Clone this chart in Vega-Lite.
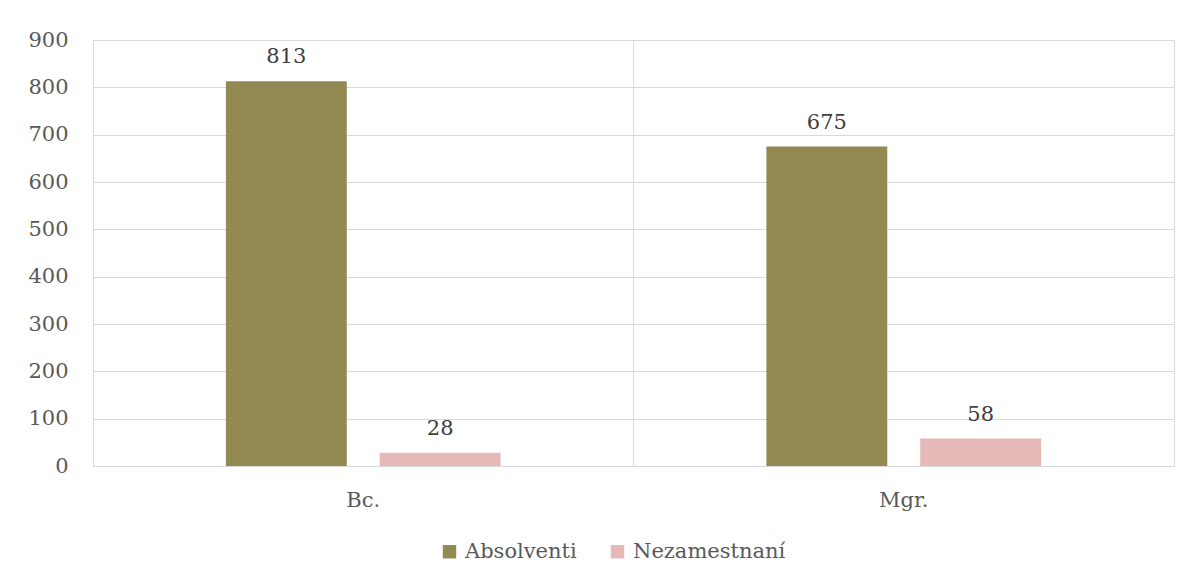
{
  "$schema": "https://vega.github.io/schema/vega-lite/v6.json",
  "width": 1081,
  "height": 426,
  "autosize": {"type": "none"},
  "padding": {"left": 93, "top": 40, "right": 18, "bottom": 122},
  "background": "white",
  "config": {
    "font": "DejaVu Serif",
    "view": {"stroke": "#d9d9d9", "strokeWidth": 1},
    "axis": {"labelFont": "DejaVu Serif", "labelColor": "#595959", "labelFontSize": 21, "gridColor": "#d9d9d9", "domainColor": "#d9d9d9", "ticks": false}
  },
  "data": {
    "values": [
      {"stupen": "Bc.", "seria": "Absolventi", "pocet": 813},
      {"stupen": "Bc.", "seria": "Nezamestnaní", "pocet": 28},
      {"stupen": "Mgr.", "seria": "Absolventi", "pocet": 675},
      {"stupen": "Mgr.", "seria": "Nezamestnaní", "pocet": 58}
    ]
  },
  "encoding": {
    "x": {
      "field": "stupen", "type": "nominal", "sort": ["Bc.", "Mgr."],
      "scale": {"paddingInner": 0, "paddingOuter": 0},
      "axis": {"title": null, "labelAngle": 0, "grid": true, "bandPosition": 0, "labelPadding": 23, "domain": true}
    },
    "xOffset": {
      "field": "seria", "type": "nominal", "sort": ["Absolventi", "Nezamestnaní"],
      "scale": {"paddingInner": 0.214, "paddingOuter": 0.864}
    },
    "y": {
      "field": "pocet", "type": "quantitative",
      "scale": {"domain": [0, 900], "nice": false},
      "axis": {"title": null, "values": [0,100,200,300,400,500,600,700,800,900], "domain": false, "labelPadding": 25, "grid": true}
    }
  },
  "layer": [
    {
      "mark": {"type": "bar"},
      "encoding": {
        "color": {
          "field": "seria", "type": "nominal",
          "scale": {"domain": ["Absolventi", "Nezamestnaní"], "range": ["#938953", "#e6b9b8"]},
          "legend": {
            "title": null, "orient": "none", "direction": "horizontal",
            "legendX": 346, "legendY": 501,
            "symbolType": "square", "symbolSize": 180, "symbolStrokeWidth": 0,
            "labelFont": "DejaVu Serif", "labelFontSize": 21, "labelColor": "#595959",
            "columnPadding": 30, "labelOffset": 5
          }
        }
      }
    },
    {
      "mark": {"type": "text", "baseline": "bottom", "dy": -14, "fontSize": 21, "color": "#404040", "font": "DejaVu Serif"},
      "encoding": {
        "text": {"field": "pocet", "type": "quantitative"}
      }
    }
  ]
}
